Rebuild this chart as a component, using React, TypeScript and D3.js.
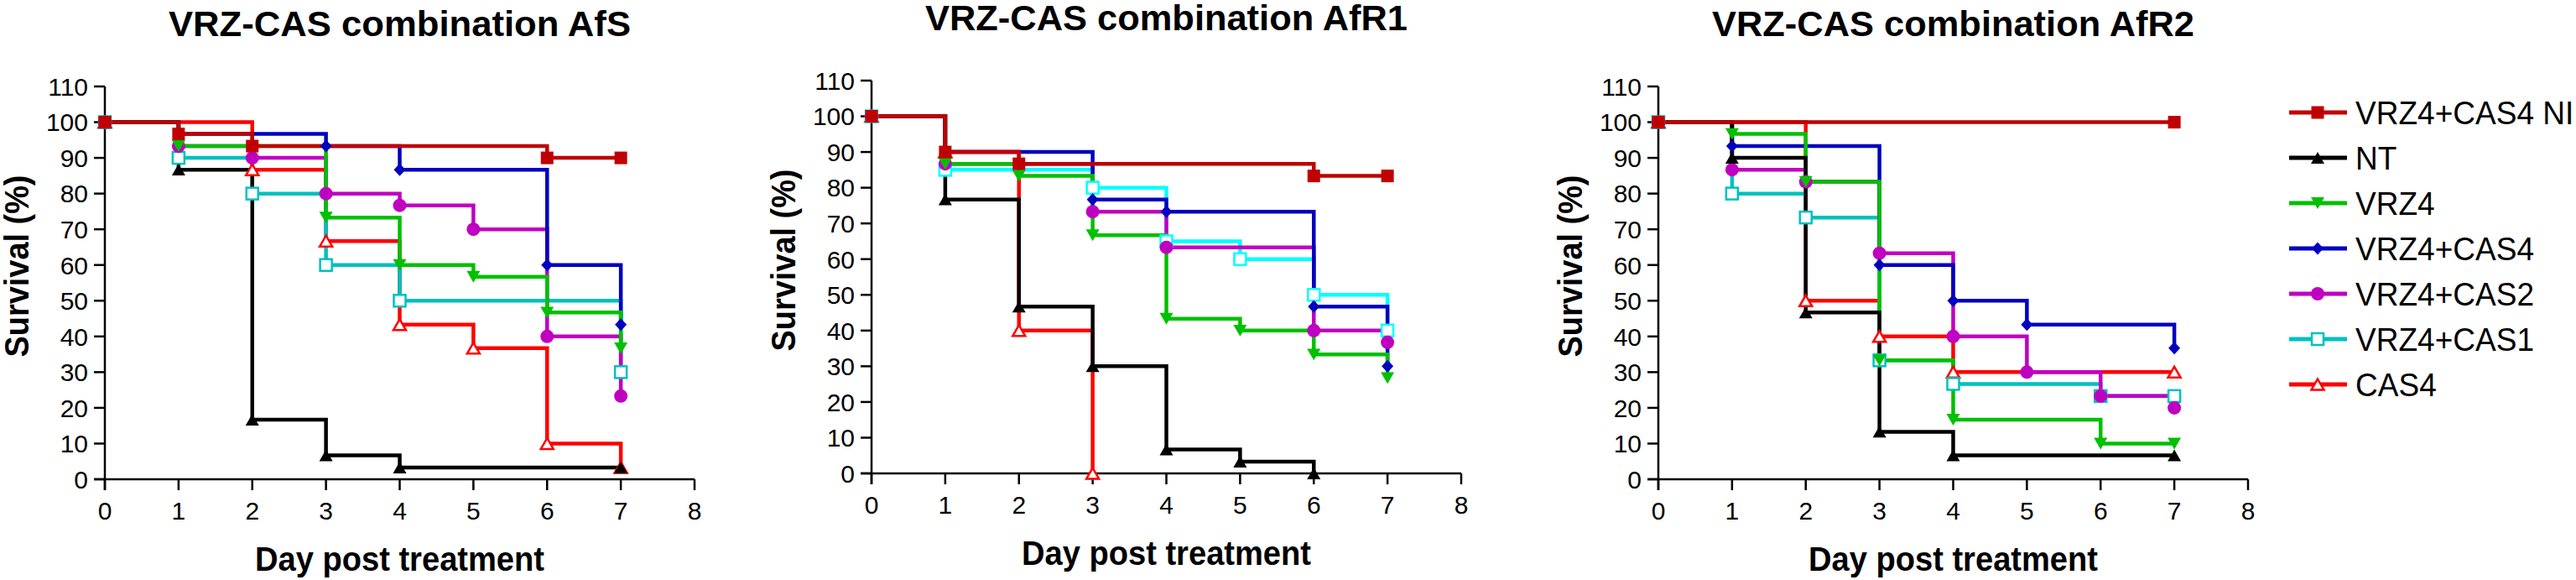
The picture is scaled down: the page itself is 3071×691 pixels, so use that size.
import * as d3 from 'd3'

type Pt = [number, number]

const groupNames = ['VRZ4+CAS4 NI', 'NT', 'VRZ4', 'VRZ4+CAS4', 'VRZ4+CAS2', 'VRZ4+CAS1', 'CAS4']
const panelTitles = ['VRZ-CAS combination AfS', 'VRZ-CAS combination AfR1', 'VRZ-CAS combination AfR2']
const dayTicks = [0, 1, 2, 3, 4, 5, 6, 7, 8]
const survivalTicks = [0, 10, 20, 30, 40, 50, 60, 70, 80, 90, 100, 110]

// [day, survival %] at each step of the curve, AfS strain
const afsNI: Pt[] = [[0, 100], [1, 96.7], [2, 93.3], [6, 90], [7, 90]]
const afsNT: Pt[] = [[0, 100], [1, 86.7], [2, 16.7], [3, 6.7], [4, 3.3], [7, 3.3]]
const afsVRZ4: Pt[] = [[0, 100], [1, 93.3], [3, 73.3], [4, 60], [5, 56.7], [6, 46.7], [7, 36.7]]
const afsVRZ4CAS4: Pt[] = [[0, 100], [1, 96.7], [3, 93.3], [4, 86.7], [6, 60], [7, 43.3]]
const afsVRZ4CAS2: Pt[] = [[0, 100], [1, 93.3], [2, 90], [3, 80], [4, 76.7], [5, 70], [6, 40], [7, 23.3]]
const afsVRZ4CAS1: Pt[] = [[0, 100], [1, 90], [2, 80], [3, 60], [4, 50], [7, 30]]
const afsCAS4: Pt[] = [[0, 100], [2, 86.7], [3, 66.7], [4, 43.3], [5, 36.7], [6, 10], [7, 3.3]]

// AfR1 strain
const afr1NI: Pt[] = [[0, 100], [1, 90], [2, 86.7], [6, 83.3], [7, 83.3]]
const afr1NT: Pt[] = [[0, 100], [1, 76.7], [2, 46.7], [3, 30], [4, 6.7], [5, 3.3], [6, 0]]
const afr1VRZ4: Pt[] = [[0, 100], [1, 86.7], [2, 83.3], [3, 66.7], [4, 43.3], [5, 40], [6, 33.3], [7, 26.7]]
const afr1VRZ4CAS4: Pt[] = [[0, 100], [1, 90], [3, 76.7], [4, 73.3], [6, 46.7], [7, 30]]
const afr1VRZ4CAS2: Pt[] = [[0, 100], [1, 86.7], [3, 73.3], [4, 63.3], [6, 40], [7, 36.7]]
const afr1VRZ4CAS1: Pt[] = [[0, 100], [1, 85], [3, 80], [4, 65], [5, 60], [6, 50], [7, 40]]
const afr1CAS4: Pt[] = [[0, 100], [1, 90], [2, 40], [3, 0]]

// AfR2 strain
const afr2NI: Pt[] = [[0, 100], [7, 100]]
const afr2NT: Pt[] = [[0, 100], [1, 90], [2, 46.7], [3, 13.3], [4, 6.7], [7, 6.7]]
const afr2VRZ4: Pt[] = [[0, 100], [1, 96.7], [2, 83.3], [3, 33.3], [4, 16.7], [6, 10], [7, 10]]
const afr2VRZ4CAS4: Pt[] = [[0, 100], [1, 93.3], [3, 60], [4, 50], [5, 43.3], [7, 36.7]]
const afr2VRZ4CAS2: Pt[] = [[0, 100], [1, 86.7], [2, 83.3], [3, 63.3], [4, 40], [5, 30], [6, 23.3], [7, 20]]
const afr2VRZ4CAS1: Pt[] = [[0, 100], [1, 80], [2, 73.3], [3, 33.3], [4, 26.7], [6, 23.3], [7, 23.3]]
const afr2CAS4: Pt[] = [[0, 100], [2, 50], [3, 40], [4, 30], [7, 30]]

const afsCurves = [afsNI, afsNT, afsVRZ4, afsVRZ4CAS4, afsVRZ4CAS2, afsVRZ4CAS1, afsCAS4]
const afr1Curves = [afr1NI, afr1NT, afr1VRZ4, afr1VRZ4CAS4, afr1VRZ4CAS2, afr1VRZ4CAS1, afr1CAS4]
const afr2Curves = [afr2NI, afr2NT, afr2VRZ4, afr2VRZ4CAS4, afr2VRZ4CAS2, afr2VRZ4CAS1, afr2CAS4]

const FONT = '"Liberation Sans", Arial, Helvetica, sans-serif'
const colors = ['#c00000', '#000000', '#00c000', '#0000c0', '#c000c0', '#00c0c0', '#ff0000']
const markerKinds = ['square', 'triUp', 'triDown', 'diamond', 'circle', 'openSquare', 'openTri']

const tri = (s: number, dir: number) => {
	const h = s * 0.866
	return `M0,${(-dir * h) / 2}L${s / 2},${(dir * h) / 2}L${-s / 2},${(dir * h) / 2}Z`
}

const Marker = ({ kind, color, x, y }) => {
	const t = `translate(${x},${y})`
	switch (kind) {
		case 'square':
			return <rect x={x - 7.5} y={y - 7.5} width={15} height={15} fill={color} />
		case 'triUp':
			return <path transform={t} d={tri(16, 1)} fill={color} />
		case 'triDown':
			return <path transform={t} d={tri(16, -1)} fill={color} />
		case 'diamond':
			return <path transform={t} d="M0,-7.5L7,0L0,7.5L-7,0Z" fill={color} />
		case 'circle':
			return <circle cx={x} cy={y} r={8} fill={color} />
		case 'openSquare':
			return <rect x={x - 7} y={y - 7} width={14} height={14} fill="white" stroke={color} strokeWidth={2.5} />
		default:
			return <path transform={t} d={tri(15, 1)} fill="white" stroke={color} strokeWidth={2.5} />
	}
}

const Panel = ({ title, curves, left, top, cyan }) => {
	const bottom = top + 468
	const x = d3.scaleLinear().domain([0, 8]).range([left, left + 703])
	const y = d3.scaleLinear().domain([0, 110]).range([bottom, top])
	const line = d3
		.line<Pt>()
		.x((d) => x(d[0]))
		.y((d) => y(d[1]))
		.curve(d3.curveStepAfter)
	const cols = colors.map((c, i) => (i === 5 ? cyan : c))
	// first group ends up on top
	const order = d3.range(curves.length).reverse()

	return (
		<g fontFamily={FONT}>
			<text x={x(4)} y={top - 60} textAnchor="middle" fontWeight="bold" fontSize={42} textLength={title.endsWith('AfS') ? 551 : 575} lengthAdjust="spacingAndGlyphs">
				{title}
			</text>

			{/* axes */}
			<line x1={left} x2={left} y1={top} y2={bottom + 13} stroke="black" strokeWidth={2.5} />
			<line x1={left - 13} x2={x(8)} y1={bottom} y2={bottom} stroke="black" strokeWidth={2.5} />
			{survivalTicks.map((v) => (
				<g key={v}>
					<line x1={left - 13} x2={left} y1={y(v)} y2={y(v)} stroke="black" strokeWidth={2.5} />
					<text x={left - 20} y={y(v)} dy="0.36em" textAnchor="end" fontSize={30}>
						{v}
					</text>
				</g>
			))}
			{dayTicks.map((d) => (
				<g key={d}>
					<line x1={x(d)} x2={x(d)} y1={bottom} y2={bottom + 13} stroke="black" strokeWidth={2.5} />
					<text x={x(d)} y={bottom + 37} dy="0.36em" textAnchor="middle" fontSize={30}>
						{d}
					</text>
				</g>
			))}

			<text transform={`translate(${left - 91},${top + 214}) rotate(-90)`} textAnchor="middle" fontWeight="bold" fontSize={41} textLength={217} lengthAdjust="spacingAndGlyphs">
				Survival (%)
			</text>
			<text x={x(4)} y={top + 577} textAnchor="middle" fontWeight="bold" fontSize={40} textLength={345} lengthAdjust="spacingAndGlyphs">
				Day post treatment
			</text>

			{order.map((i) => (
				<path key={'l' + i} d={line(curves[i])} fill="none" stroke={cols[i]} strokeWidth={4.5} />
			))}
			{order.map((i) =>
				curves[i].map((p, j) => <Marker key={`m${i}-${j}`} kind={markerKinds[i]} color={cols[i]} x={x(p[0])} y={y(p[1])} />)
			)}
		</g>
	)
}

const Legend = () => (
	<g fontFamily={FONT}>
		{groupNames.map((name, i) => {
			const cy = 134 + i * 54
			return (
				<g key={name}>
					<line x1={2729} x2={2798} y1={cy} y2={cy} stroke={colors[i]} strokeWidth={5} />
					<Marker kind={markerKinds[i]} color={colors[i]} x={2763} y={cy} />
					<text transform={`translate(2808,${cy}) scale(0.95,1)`} dy="0.36em" fontSize={39}>
						{name}
					</text>
				</g>
			)
		})}
	</g>
)

export default function App() {
	return (
		<>
			<style>{'body{margin:0}'}</style>
			<svg width={3071} height={691} style={{ display: 'block', background: 'white' }}>
				<Panel title={panelTitles[0]} curves={afsCurves} left={125} top={103} cyan="#00c0c0" />
				<Panel title={panelTitles[1]} curves={afr1Curves} left={1039} top={96} cyan="#00ffff" />
				<Panel title={panelTitles[2]} curves={afr2Curves} left={1977} top={103} cyan="#00c0c0" />
				<Legend />
			</svg>
		</>
	)
}
